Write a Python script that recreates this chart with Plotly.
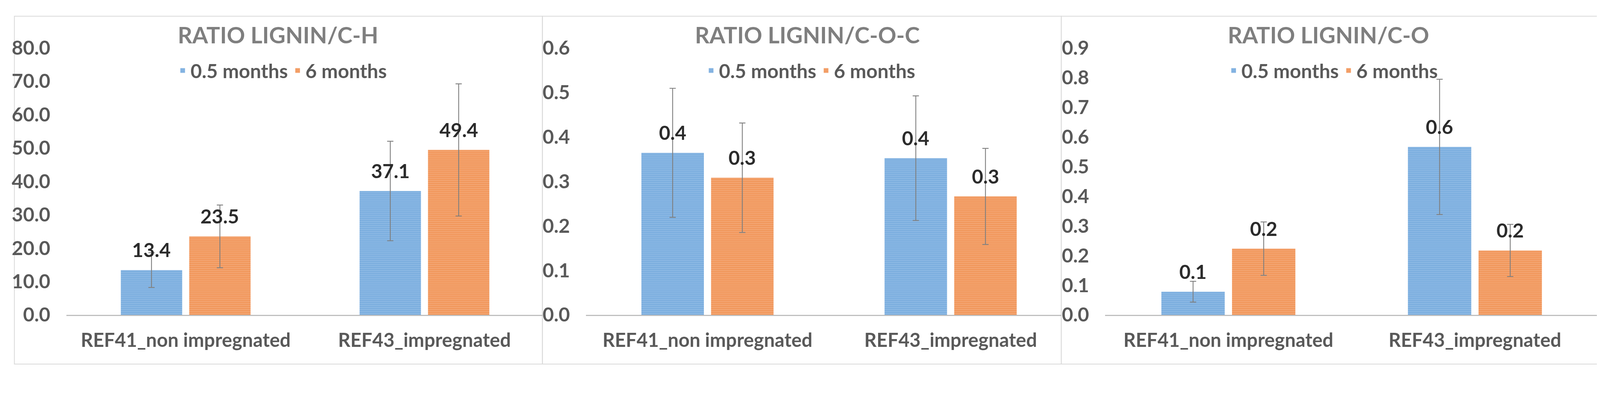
import plotly.graph_objects as go

# reference picture size (the figure fills the browser viewport)
W, H = 4342, 1024
MX = 8.5    # horizontal page offset as seen in the picture
MY = 38.5   # vertical page offset as seen in the picture
SPAN_X = W - 2 * MX
SPAN_Y = H - 17


def fx(px):
    return (px - MX) / SPAN_X


def fy(py):
    return 1 - (py - MY) / SPAN_Y


def clamp(v, hi=1.0):
    return max(0.0, min(hi, v))


categories = ["REF41_non impregnated", "REF43_impregnated"]
series_names = ["0.5 months", "6 months"]
titles = ["RATIO LIGNIN/C-H", "RATIO LIGNIN/C-O-C", "RATIO LIGNIN/C-O"]

# panel 1: ratio lignin / C-H
ch_05 = [13.4, 37.1]
ch_6 = [23.5, 49.4]
ch_05_err = [5.2, 14.9]
ch_6_err = [9.4, 19.8]

# panel 2: ratio lignin / C-O-C
coc_05 = [0.364, 0.352]
coc_6 = [0.308, 0.266]
coc_05_err = [0.145, 0.140]
coc_6_err = [0.123, 0.108]

# panel 3: ratio lignin / C-O
co_05 = [0.078, 0.566]
co_6 = [0.223, 0.217]
co_05_err = [0.035, 0.228]
co_6_err = [0.090, 0.088]

y_max = [80, 0.6, 0.9]
y_dtick = [10, 0.1, 0.1]

panels = [
    (ch_05, ch_6, ch_05_err, ch_6_err),
    (coc_05, coc_6, coc_05_err, coc_6_err),
    (co_05, co_6, co_05_err, co_6_err),
]

# layout geometry (picture pixels)
plot_px = [(180, 1472, 1.494), (1590, 2880, 1.455), (2999, 4333, 1.494)]
border_px = [(39, 1472), (1472, 2880), (2880, 4339)]
title_cx = [754, 2191, 3605]
legend_cx = [765, 2199, 3617]
y_top_px, y_bot_px = 126, 853

BLUE_FG, BLUE_BG = "#5B9BD5", "#92BCE6"
ORANGE_FG, ORANGE_BG = "#ED7D31", "#F4AA7A"
FONT = "Lato"
TXT = "#595959"
BARGAP = 0.427
BARGROUPGAP = 0.103

fig = go.Figure()
annotations = []
shapes = []

for i, (v05, v6, e05, e6) in enumerate(panels):
    n = i + 1
    xa = "x" if n == 1 else f"x{n}"
    ya = "y" if n == 1 else f"y{n}"
    lg = "legend" if n == 1 else f"legend{n}"
    for name, vals, errs, fg, bg in [
        (series_names[0], v05, e05, BLUE_FG, BLUE_BG),
        (series_names[1], v6, e6, ORANGE_FG, ORANGE_BG),
    ]:
        fig.add_trace(go.Bar(
            x=categories, y=vals, name=name, xaxis=xa, yaxis=ya, legend=lg,
            marker=dict(color=bg, line=dict(width=0),
                        pattern=dict(shape="-", fgcolor=fg, bgcolor=bg,
                                     size=5, solidity=0.55)),
            error_y=dict(type="data", array=errs, visible=True,
                         color="#7F7F7F", thickness=2.2, width=8),
        ))
    # data labels
    off = (1 - BARGAP) / 4
    for j in range(len(categories)):
        for vals, sgn in [(v05, -1), (v6, 1)]:
            annotations.append(dict(
                x=j + sgn * off, y=vals[j], xref=xa, yref=ya,
                text=f"{vals[j]:.1f}", showarrow=False, yanchor="bottom",
                yshift=20, font=dict(family=FONT, size=50, color="#2B2B2B", weight=700),
            ))
    # titles
    annotations.append(dict(
        x=fx(title_cx[i]), y=fy(90), xref="paper", yref="paper",
        text=titles[i], showarrow=False, xanchor="center", yanchor="middle",
        font=dict(family=FONT, size=58, color="#7F7F7F", weight=700),
    ))
    # panel border
    bx0, bx1 = border_px[i]
    shapes.append(dict(type="rect", xref="paper", yref="paper",
                       x0=fx(bx0), x1=fx(bx1), y0=fy(987), y1=clamp(fy(28), 0.9985),
                       line=dict(color="#D9D9D9", width=2), layer="below"))
    px0, px1, rmax = plot_px[i]
    xkey = "xaxis" if n == 1 else f"xaxis{n}"
    ykey = "yaxis" if n == 1 else f"yaxis{n}"
    fig.update_layout(**{
        xkey: dict(domain=[clamp(fx(px0)), clamp(fx(px1))], anchor=ya, type="category",
                   range=[-0.5, rmax], showline=True, linecolor="#BFBFBF",
                   linewidth=3, ticks="", showgrid=False, zeroline=False,
                   ticklabelstandoff=20,
                   tickfont=dict(family=FONT, size=49, color=TXT, weight=700)),
        ykey: dict(domain=[clamp(fy(y_bot_px)), clamp(fy(y_top_px))], anchor=xa,
                   range=[0, y_max[i]], dtick=y_dtick[i], tick0=0,
                   tickformat=".1f", showgrid=False, zeroline=False,
                   showline=False, ticks="", ticklabelstandoff=40,
                   tickfont=dict(family=FONT, size=50, color=TXT, weight=700)),
        lg: dict(orientation="h", x=clamp(fx(legend_cx[i])), xanchor="center",
                 y=clamp(fy(188)), yanchor="middle", bgcolor="rgba(0,0,0,0)",
                 font=dict(family=FONT, size=50, color=TXT, weight=700),
                 itemclick=False, traceorder="normal"),
    })

fig.update_layout(
    autosize=True,
    margin=dict(l=0, r=0, t=0, b=0, pad=0),
    paper_bgcolor="white", plot_bgcolor="rgba(0,0,0,0)",
    barmode="group", bargap=BARGAP, bargroupgap=BARGROUPGAP,
    annotations=annotations, shapes=shapes,
    font=dict(family=FONT, color=TXT),
)

fig.write_html("out.html", default_width="calc(100vw - 16px)",
               default_height="calc(100vh - 16px)")
